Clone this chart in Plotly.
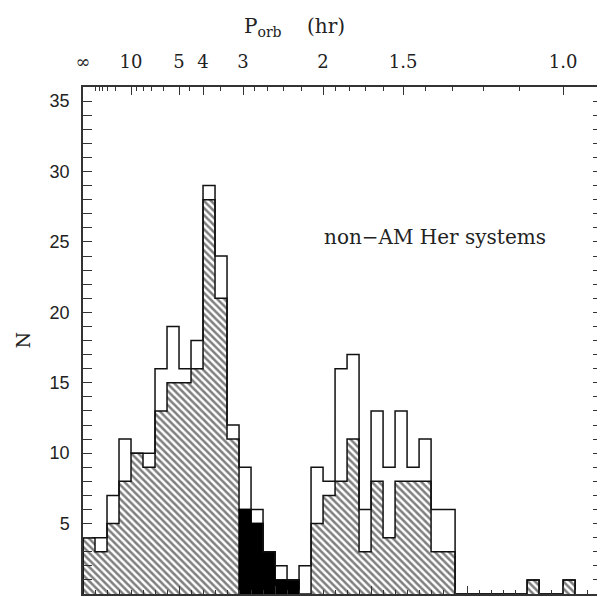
import math
import plotly.graph_objects as go

# ---- data (bins in orbital frequency 1/P, hr^-1) ----
bin_width = 0.025
total_counts = [4, 4, 7, 11, 10, 10, 16, 19, 16, 18, 29, 24, 12, 9, 6, 3, 2, 1, 2,
                9, 8, 16, 17, 6, 13, 9, 13, 9, 11, 6, 6, 0, 0, 0, 0, 0, 0, 1, 0, 0, 1]
hatched_counts = [4, 3, 5, 8, 10, 9, 13, 15, 15, 16, 28, 21, 11, 6, 5, 3, 1, 1, 0,
                  5, 7, 8, 11, 3, 8, 4, 8, 8, 8, 3, 3, 0, 0, 0, 0, 0, 0, 1, 0, 0, 1]
gap_first_bin = 13
gap_counts = [6, 5, 3, 1, 1]

period_major_hr = [math.inf, 10, 5, 4, 3, 2, 1.5, 1.0]
period_major_labels = ["∞", "10", "5", "4", "3", "2", "1.5", "1.0"]
period_minor_hr = [40, 30, 25, 20, 15, 9, 8, 7, 6, 4.5, 3.5, 2.8, 2.6, 2.4, 2.2,
                   1.9, 1.8, 1.7, 1.6, 1.4, 1.3, 1.2, 1.1]

y_major = [0, 5, 10, 15, 20, 25, 30, 35]
x_range = [0, 1.081]
y_range = [0, 36]


def step_xy(counts, first_bin=0):
    xs = [first_bin * bin_width]
    ys = [0]
    for i, c in enumerate(counts):
        xs.append((first_bin + i) * bin_width)
        ys.append(c)
    xs.append((first_bin + len(counts)) * bin_width)
    ys.append(counts[-1])
    xs.append((first_bin + len(counts)) * bin_width)
    ys.append(0)
    return xs, ys


fig = go.Figure()

hx, hy = step_xy(hatched_counts)
fig.add_trace(go.Scatter(
    x=hx, y=hy, mode="lines", line=dict(shape="hv", color="#111", width=1.5),
    fill="tozeroy", fillcolor="white",
    fillpattern=dict(shape="\\", fgcolor="#000", bgcolor="white", size=5, solidity=0.5),
    showlegend=False, hoverinfo="skip"))

gx, gy = step_xy(gap_counts, gap_first_bin)
fig.add_trace(go.Scatter(
    x=gx, y=gy, mode="lines", line=dict(shape="hv", color="black", width=1.5),
    fill="tozeroy", fillcolor="black", showlegend=False, hoverinfo="skip"))

tx, ty = step_xy(total_counts)
fig.add_trace(go.Scatter(
    x=tx, y=ty, mode="lines", line=dict(shape="hv", color="#111", width=1.5),
    showlegend=False, hoverinfo="skip"))

# invisible trace on the top axis
fig.add_trace(go.Scatter(x=[0], y=[0], xaxis="x2", mode="markers",
                         marker=dict(opacity=0), showlegend=False, hoverinfo="skip"))

bottom_minor = [i * bin_width for i in range(1, 44)]
axis_line = dict(showline=True, linecolor="#333", linewidth=1.5, showgrid=False,
                 zeroline=False, automargin=False)

# the page body has an 8px default margin; compensate so the plot area sits at
# x 83..602, y 87..594 of the 605x597 window
fig.update_layout(
    width=597, height=589,
    margin=dict(l=75, r=3, t=79, b=3, autoexpand=False),
    paper_bgcolor="white", plot_bgcolor="white",
    xaxis=dict(range=x_range, ticks="inside", tickvals=[0.2, 0.4, 0.6, 0.8, 1.0],
               ticklen=8, tickcolor="#333", showticklabels=False,
               minor=dict(tickvals=bottom_minor, ticks="inside", ticklen=4,
                          tickcolor="#333"),
               **axis_line),
    xaxis2=dict(range=x_range, overlaying="x", side="top", anchor="y",
                ticks="inside", ticklen=8, tickcolor="#333",
                tickvals=[0 if math.isinf(p) else 1 / p for p in period_major_hr],
                ticktext=period_major_labels,
                tickfont=dict(family="DejaVu Serif", size=18, color="#222"),
                ticklabelstandoff=10,
                minor=dict(tickvals=[1 / p for p in period_minor_hr], ticks="inside",
                           ticklen=4, tickcolor="#333"),
                **axis_line),
    yaxis=dict(range=y_range, ticks="inside", tickvals=y_major, ticklen=9,
               tickcolor="#333", mirror="allticks",
               tickfont=dict(family="Liberation Sans", size=18, color="#222"),
               ticklabelstandoff=8,
               minor=dict(dtick=1, ticks="inside", ticklen=5, tickcolor="#333"),
               **axis_line),
)

fig.add_annotation(text="P<sub>orb</sub>&nbsp;&nbsp;&nbsp;&nbsp;(hr)", xref="paper", yref="paper",
                   x=(294 - 83) / 519, y=(594 - 27) / 507, showarrow=False,
                   xanchor="center", yanchor="middle",
                   font=dict(family="DejaVu Serif", size=20, color="#222"))
fig.add_annotation(text="N", xref="paper", yref="paper", x=(22 - 83) / 519, y=0.5,
                   showarrow=False, textangle=-90, xanchor="center", yanchor="middle",
                   font=dict(family="DejaVu Serif", size=19, color="#222"))
fig.add_annotation(text="non−AM Her systems", xref="x", yref="y",
                   x=(435.5 - 83.3) / 480, y=(593.5 - 237) / 14.08, showarrow=False,
                   xanchor="center", yanchor="middle",
                   font=dict(family="DejaVu Serif", size=20, color="#222"))

fig.write_html("out.html")
